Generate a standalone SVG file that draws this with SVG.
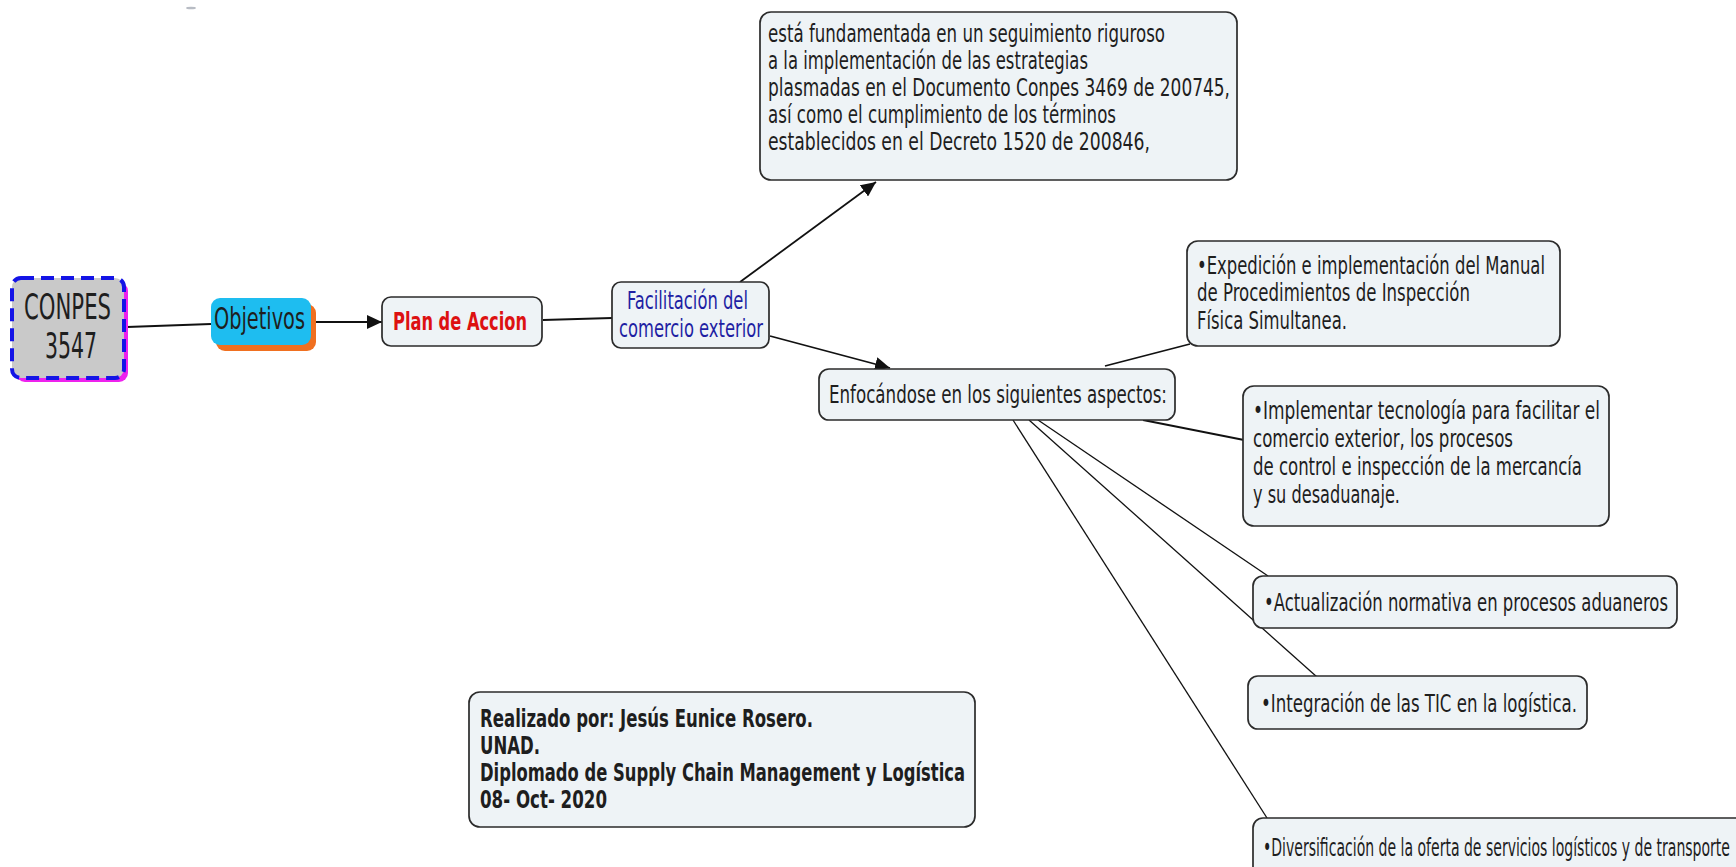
<svg xmlns="http://www.w3.org/2000/svg" width="1736" height="867" viewBox="0 0 1736 867">
  <style>
    .box { fill: #eef3f6; stroke: #2b2b2b; stroke-width: 1.7; }
    .t { font-family: "DejaVu Sans Condensed", "DejaVu Sans", sans-serif; font-size: 25px; fill: #1e1e1e; }
    .b { font-weight: bold; font-size: 24px; }
    .link { fill: none; stroke: #111; stroke-width: 1.8; }
    .thin { fill: none; stroke: #111; stroke-width: 1.3; }
  </style>
  <defs>
    <marker id="arrow" markerUnits="userSpaceOnUse" markerWidth="16" markerHeight="14" refX="15" refY="7" orient="auto">
      <path d="M0,0 L15,7 L0,14 z" fill="#111"/>
    </marker>
  </defs>

  <rect width="1736" height="867" fill="#ffffff"/>
  <ellipse cx="191" cy="8" rx="5" ry="1.3" fill="#b8bcc4"/>

  <g id="connectors">
    <line class="link" x1="127" y1="327" x2="211" y2="324"/>
    <line class="link" x1="311" y1="322" x2="382" y2="322" marker-end="url(#arrow)"/>
    <line class="link" x1="543" y1="320" x2="612" y2="318"/>
    <line class="link" x1="740" y1="282" x2="876" y2="182" marker-end="url(#arrow)"/>
    <line class="link" x1="770" y1="336" x2="890" y2="368" marker-end="url(#arrow)"/>
    <line class="link" x1="1105" y1="366" x2="1190" y2="344"/>
    <line class="link" x1="1143" y1="420" x2="1244" y2="440"/>
    <line class="thin" x1="1038" y1="420" x2="1268" y2="576"/>
    <line class="thin" x1="1029" y1="420" x2="1317" y2="677"/>
    <line class="thin" x1="1013" y1="420" x2="1267" y2="818"/>
  </g>

  <g id="conpes">
    <rect x="16" y="282" width="112" height="100" rx="9" fill="#ee22ee"/>
    <rect x="12" y="278" width="112" height="100" rx="9" fill="#c9c9c9" stroke="#1414e6" stroke-width="4" stroke-dasharray="13 7"/>
    <text class="t" style="font-size:36px" x="24" y="319" textLength="87" lengthAdjust="spacingAndGlyphs">CONPES</text>
    <text class="t" style="font-size:36px" x="45" y="358" textLength="52" lengthAdjust="spacingAndGlyphs">3547</text>
  </g>

  <g id="objetivos">
    <rect x="216" y="304" width="100" height="47" rx="9" fill="#f07020"/>
    <rect x="211" y="298" width="100" height="47" rx="9" fill="#1ebdf0"/>
    <text class="t" style="font-size:30px" x="214" y="329" textLength="91" lengthAdjust="spacingAndGlyphs">Objetivos</text>
  </g>

  <g id="plan-accion">
    <rect class="box" x="382" y="297" width="160" height="49" rx="9"/>
    <text class="t b" style="font-size:25px;fill:#dd1111" x="393" y="330" textLength="134" lengthAdjust="spacingAndGlyphs">Plan de Accion</text>
  </g>

  <g id="facilitacion">
    <rect class="box" x="612" y="282" width="157" height="66" rx="9"/>
    <text class="t" style="fill:#1f1fa3" x="627" y="309" textLength="121" lengthAdjust="spacingAndGlyphs">Facilitación del</text>
    <text class="t" style="fill:#1f1fa3" x="619" y="337" textLength="144" lengthAdjust="spacingAndGlyphs">comercio exterior</text>
  </g>

  <g id="fundamentada">
    <rect class="box" x="760" y="12" width="477" height="168" rx="11"/>
    <text class="t" x="768" y="42" textLength="397" lengthAdjust="spacingAndGlyphs">está fundamentada en un seguimiento riguroso</text>
    <text class="t" x="768" y="69" textLength="320" lengthAdjust="spacingAndGlyphs">a la implementación de las estrategias</text>
    <text class="t" x="768" y="96" textLength="462" lengthAdjust="spacingAndGlyphs">plasmadas en el Documento Conpes 3469 de 200745,</text>
    <text class="t" x="768" y="123" textLength="348" lengthAdjust="spacingAndGlyphs">así como el cumplimiento de los términos</text>
    <text class="t" x="768" y="150" textLength="382" lengthAdjust="spacingAndGlyphs">establecidos en el Decreto 1520 de 200846,</text>
  </g>

  <g id="enfocandose">
    <rect class="box" x="819" y="369" width="356" height="51" rx="10"/>
    <text class="t" x="829" y="403" textLength="338" lengthAdjust="spacingAndGlyphs">Enfocándose en los siguientes aspectos:</text>
  </g>

  <g id="expedicion">
    <rect class="box" x="1187" y="241" width="373" height="105" rx="11"/>
    <text class="t" x="1197" y="274" textLength="348" lengthAdjust="spacingAndGlyphs">•Expedición e implementación del Manual</text>
    <text class="t" x="1197" y="301" textLength="273" lengthAdjust="spacingAndGlyphs">de Procedimientos de Inspección</text>
    <text class="t" x="1197" y="329" textLength="150" lengthAdjust="spacingAndGlyphs">Física Simultanea.</text>
  </g>

  <g id="tecnologia">
    <rect class="box" x="1243" y="386" width="366" height="140" rx="11"/>
    <text class="t" x="1253" y="419" textLength="347" lengthAdjust="spacingAndGlyphs">•Implementar tecnología para facilitar el</text>
    <text class="t" x="1253" y="447" textLength="260" lengthAdjust="spacingAndGlyphs">comercio exterior, los procesos</text>
    <text class="t" x="1253" y="475" textLength="329" lengthAdjust="spacingAndGlyphs">de control e inspección de la mercancía</text>
    <text class="t" x="1253" y="503" textLength="147" lengthAdjust="spacingAndGlyphs">y su desaduanaje.</text>
  </g>

  <g id="actualizacion">
    <rect class="box" x="1253" y="576" width="424" height="52" rx="10"/>
    <text class="t" x="1264" y="611" textLength="404" lengthAdjust="spacingAndGlyphs">•Actualización normativa en procesos aduaneros</text>
  </g>

  <g id="integracion">
    <rect class="box" x="1248" y="676" width="339" height="53" rx="10"/>
    <text class="t" x="1261" y="712" textLength="316" lengthAdjust="spacingAndGlyphs">•Integración de las TIC en la logística.</text>
  </g>

  <g id="diversificacion">
    <rect class="box" x="1253" y="818" width="510" height="70" rx="10"/>
    <text class="t" x="1263" y="856" textLength="467" lengthAdjust="spacingAndGlyphs">•Diversificación de la oferta de servicios logísticos y de transporte</text>
  </g>

  <g id="autor">
    <rect class="box" x="469" y="692" width="506" height="135" rx="11"/>
    <text class="t b" x="480" y="727" textLength="333" lengthAdjust="spacingAndGlyphs">Realizado por: Jesús Eunice Rosero.</text>
    <text class="t b" x="480" y="754" textLength="60" lengthAdjust="spacingAndGlyphs">UNAD.</text>
    <text class="t b" x="480" y="781" textLength="485" lengthAdjust="spacingAndGlyphs">Diplomado de Supply Chain Management y Logística</text>
    <text class="t b" x="480" y="808" textLength="127" lengthAdjust="spacingAndGlyphs">08- Oct- 2020</text>
  </g>
</svg>
